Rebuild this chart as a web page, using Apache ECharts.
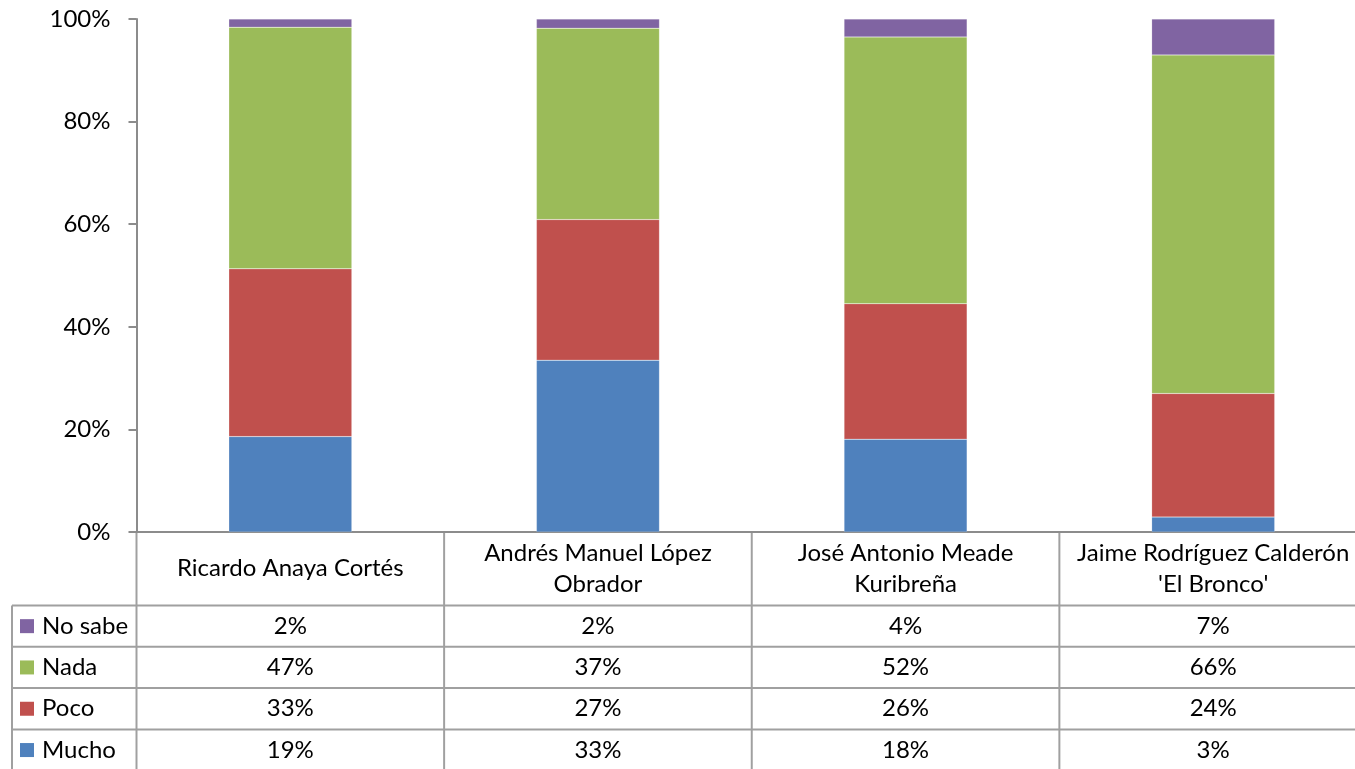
<!DOCTYPE html>
<html>
<head>
<meta charset="utf-8">
<script src="https://cdn.jsdelivr.net/npm/echarts@6/dist/echarts.min.js"></script>
<style>
html,body{margin:0;padding:0;background:#fff;overflow:hidden;}
#chart{width:1355px;height:769px;}
</style>
</head>
<body>
<div id="chart"></div>
<script>
// Categories (candidates)
const categories = ["Ricardo Anaya Cortés", "Andrés Manuel López\nObrador", "José Antonio Meade\nKuribreña", "Jaime Rodríguez Calderón\n'El Bronco'"];
// Series names (order in data table, top to bottom)
const seriesNames = ["No sabe", "Nada", "Poco", "Mucho"];
// Bar segment values (percent)
const mucho  = [18.6, 33.5, 18.1, 2.9];
const poco   = [32.7, 27.4, 26.4, 24.1];
const nada   = [47.1, 37.3, 52.0, 66.0];
const noSabe = [1.6, 1.8, 3.5, 7.0];
// Data table labels (as printed)
const tblMucho  = ["19%", "33%", "18%", "3%"];
const tblPoco   = ["33%", "27%", "26%", "24%"];
const tblNada   = ["47%", "37%", "52%", "66%"];
const tblNoSabe = ["2%", "2%", "4%", "7%"];
// Y-axis ticks
const yTicks = [0, 20, 40, 60, 80, 100];

const colors = {"Mucho": "#4F81BD", "Poco": "#C0504D", "Nada": "#9BBB59", "No sabe": "#8064A2"};
const FONT = "Lato";
const FS = 24;

const chart = echarts.init(document.getElementById('chart'), null, {renderer: 'canvas'});

function bar(name, data) {
  return {
    name: name, type: 'bar', stack: 'total', data: data, barWidth: '40%',
    itemStyle: {color: colors[name], borderColor: 'rgba(255,255,255,0.35)', borderWidth: 0.5},
    emphasis: {disabled: true}, animation: false
  };
}

const option = {
  animation: false,
  grid: {left: 136.5, width: 1230.5, top: 19, bottom: 237, containLabel: false, outerBoundsMode: 'none'},
  xAxis: {
    type: 'category', data: categories,
    axisLine: {show: true, lineStyle: {color: '#8c8c8c', width: 2}},
    axisTick: {show: false}, axisLabel: {show: false}, splitLine: {show: false}
  },
  yAxis: {
    type: 'value', min: yTicks[0], max: yTicks[yTicks.length - 1], interval: 20,
    axisLine: {show: true, lineStyle: {color: '#8c8c8c', width: 2}},
    axisTick: {show: true, length: 8, lineStyle: {color: '#8c8c8c', width: 2}},
    axisLabel: {formatter: '{value}%', fontFamily: FONT, fontSize: FS, color: '#000', margin: 26},
    splitLine: {show: false}
  },
  series: [bar('Mucho', mucho), bar('Poco', poco), bar('Nada', nada), bar('No sabe', noSabe)]
};
chart.setOption(option);

// ---- Data table below the axis ----
const c0 = chart.convertToPixel({xAxisIndex: 0}, 0);
const c1 = chart.convertToPixel({xAxisIndex: 0}, 1);
const band = c1 - c0;
const axisY = chart.convertToPixel({yAxisIndex: 0}, 0);
const plotLeft = c0 - band / 2;
const plotRight = c0 + band * (categories.length - 0.5);
const headerH = 73.5;
const rowH = 41.3;
const legendLeft = 12;
const lineColor = '#a0a0a0';
const rows = [
  {name: 'No sabe', vals: tblNoSabe},
  {name: 'Nada', vals: tblNada},
  {name: 'Poco', vals: tblPoco},
  {name: 'Mucho', vals: tblMucho}
];
const els = [];
const headerBottom = axisY + headerH;
const tableBottom = headerBottom + rowH * rows.length + 5;
els.push({type: 'line', shape: {x1: plotLeft, y1: axisY, x2: plotLeft, y2: tableBottom}, style: {stroke: lineColor, lineWidth: 2}});
for (let i = 1; i <= categories.length; i++) {
  const x = plotLeft + band * i;
  els.push({type: 'line', shape: {x1: x, y1: axisY, x2: x, y2: tableBottom}, style: {stroke: lineColor, lineWidth: 2}});
}
els.push({type: 'line', shape: {x1: legendLeft, y1: headerBottom, x2: legendLeft, y2: tableBottom}, style: {stroke: lineColor, lineWidth: 2}});
for (let r = 0; r < rows.length; r++) {
  const y = headerBottom + rowH * r;
  els.push({type: 'line', shape: {x1: legendLeft, y1: y, x2: plotRight, y2: y}, style: {stroke: lineColor, lineWidth: 2}});
}
categories.forEach((cat, i) => {
  const cx = plotLeft + band * (i + 0.5);
  els.push({type: 'text', x: cx, y: axisY + headerH / 2, style: {text: cat, fontFamily: FONT, fontSize: FS, fill: '#000', align: 'center', verticalAlign: 'middle', lineHeight: 31}});
});
rows.forEach((row, r) => {
  const cy = headerBottom + rowH * (r + 0.5);
  els.push({type: 'rect', shape: {x: 20, y: cy - 7, width: 14, height: 14}, style: {fill: colors[row.name]}});
  els.push({type: 'text', x: 42, y: cy, style: {text: row.name, fontFamily: FONT, fontSize: FS, fill: '#000', align: 'left', verticalAlign: 'middle'}});
  row.vals.forEach((v, i) => {
    const cx = plotLeft + band * (i + 0.5);
    els.push({type: 'text', x: cx, y: cy, style: {text: v, fontFamily: FONT, fontSize: FS, fill: '#000', align: 'center', verticalAlign: 'middle'}});
  });
});
chart.setOption({graphic: {elements: els}});
</script>
</body>
</html>
